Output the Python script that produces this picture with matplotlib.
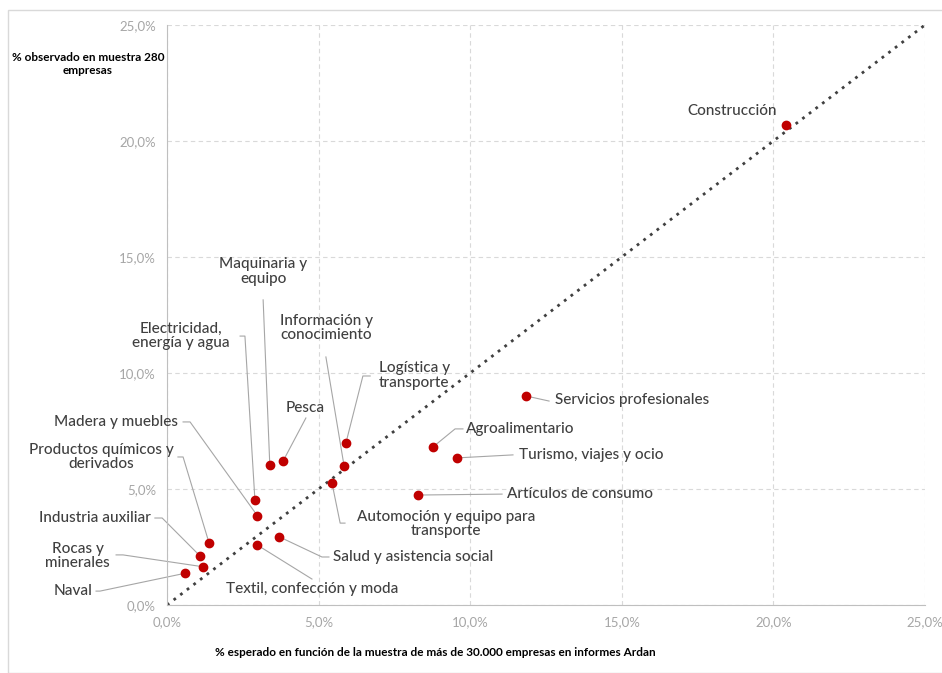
import matplotlib.pyplot as plt
from matplotlib.ticker import FuncFormatter, MultipleLocator
from matplotlib.patches import Rectangle

plt.rcParams['font.family'] = ['Lato', 'DejaVu Sans']

# datos (% esperado, % observado)
sectores = ['Construcción', 'Servicios profesionales', 'Agroalimentario',
            'Turismo, viajes y ocio', 'Artículos de consumo',
            'Automoción y equipo para\ntransporte', 'Salud y asistencia social',
            'Textil, confección y moda', 'Naval', 'Rocas y\nminerales',
            'Industria auxiliar', 'Productos químicos y\nderivados',
            'Madera y muebles', 'Electricidad,\nenergía y agua',
            'Maquinaria y\nequipo', 'Información y\nconocimiento',
            'Logística y\ntransporte', 'Pesca']
esperado = [20.42, 11.84, 8.77, 9.56, 8.28, 5.44, 3.70, 2.96, 0.60, 1.18,
            1.10, 1.39, 2.98, 2.90, 3.39, 5.84, 5.90, 3.83]
observado = [20.69, 9.01, 6.81, 6.34, 4.74, 5.26, 2.94, 2.60, 1.37, 1.65,
             2.10, 2.66, 3.85, 4.51, 6.02, 5.99, 6.98, 6.21]

# posicion de etiquetas: (x, y, ha, tramo de linea guia)
etiquetas = [
    (20.12, 21.29, 'right', []),
    (12.80, 8.84, 'left', [(12.60, 8.79)]),
    (9.86, 7.59, 'left', [(9.50, 7.59), (9.76, 7.59)]),
    (11.61, 6.47, 'left', [(11.41, 6.47)]),
    (11.21, 4.78, 'left', [(11.05, 4.78)]),
    (9.20, 3.49, 'center', [(5.71, 3.53), (5.87, 3.53)]),
    (5.47, 2.07, 'left', [(5.11, 2.07), (5.34, 2.07)]),
    (4.78, 0.69, 'center', [(4.78, 1.12)]),
    (-2.47, 0.62, 'right', [(-2.21, 0.60), (-2.34, 0.60)]),
    (-1.88, 2.11, 'right', [(-1.45, 2.16), (-1.68, 2.16)]),
    (-0.53, 3.75, 'right', [(-0.16, 3.75), (-0.40, 3.75)]),
    (0.23, 6.38, 'right', [(0.53, 6.38), (0.36, 6.38)]),
    (0.36, 7.89, 'right', [(0.76, 7.89), (0.53, 7.89)]),
    (2.08, 11.59, 'right', [(2.57, 11.59), (2.41, 11.59)]),
    (3.17, 14.37, 'center', [(3.17, 13.15)]),
    (5.26, 11.94, 'center', [(5.24, 10.69)]),
    (8.15, 9.89, 'center', [(6.46, 9.87), (6.70, 9.87)]),
    (4.55, 8.49, 'center', [(4.58, 8.06)]),
]

fig = plt.figure(figsize=(9.42, 6.73), dpi=100)
ax = fig.add_axes([0.1773, 0.101, 0.8047, 0.862])

fig.patches.append(Rectangle((8 / 942, 0), 1, 1 - 10 / 673, transform=fig.transFigure,
                             fill=False, edgecolor='#d9d9d9', lw=1))

ax.set_xlim(0, 25)
ax.set_ylim(0, 25)
ax.xaxis.set_major_locator(MultipleLocator(5))
ax.yaxis.set_major_locator(MultipleLocator(5))
fmt = FuncFormatter(lambda v, p: f'{v:.1f}%'.replace('.', ','))
ax.xaxis.set_major_formatter(fmt)
ax.yaxis.set_major_formatter(fmt)
ax.grid(True, color='#d9d9d9', linestyle=(0, (4, 3)), lw=0.8)
ax.set_axisbelow(True)
for s in ['top', 'right']:
    ax.spines[s].set_visible(False)
for s in ['left', 'bottom']:
    ax.spines[s].set_color('#bfbfbf')
ax.tick_params(length=0, labelsize=9.5, labelcolor='#a6a6a6', pad=8)

ax.plot([0, 25], [0, 25], linestyle=(0, (1, 2)), color='#404040', lw=2, zorder=2)

for (tx, ty, ha, guia), x, y, nombre in zip(etiquetas, esperado, observado, sectores):
    if guia:
        xs = [x] + [g[0] for g in guia]
        ys = [y] + [g[1] for g in guia]
        ax.plot(xs, ys, color='#a6a6a6', lw=0.8, clip_on=False, zorder=2)
    ax.text(tx, ty, nombre, ha=ha, va='center', multialignment='center',
            fontsize=11, color='#404040', fontweight='medium', linespacing=1.05)

ax.scatter(esperado, observado, s=36, color='#c00000', zorder=3, clip_on=False)

fig.text(0.0934, 0.905, '% observado en muestra 280\nempresas', ha='center', va='center',
         fontsize=8.5, color='black', fontweight='bold', linespacing=1.2)
fig.text(0.4618, 0.031, '% esperado en función de la muestra de más de 30.000 empresas en informes Ardan',
         ha='center', va='center', fontsize=8.5, color='black', fontweight='bold')

fig.savefig('out.png', dpi=100)
